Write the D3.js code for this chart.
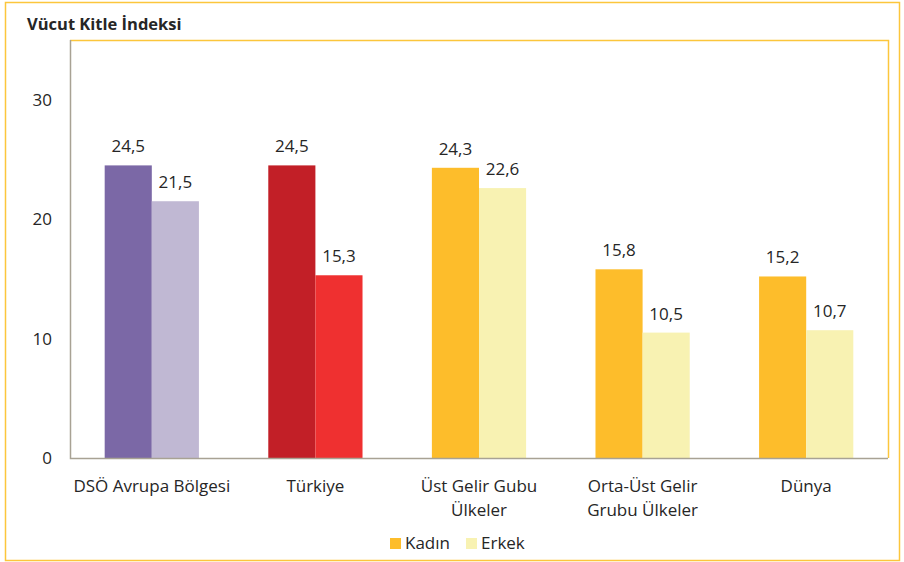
<!DOCTYPE html>
<html>
<head>
<meta charset="utf-8">
<script src="https://cdn.jsdelivr.net/npm/d3@7"></script>
<style>
  html, body { margin: 0; padding: 0; background: #fff; }
  #viz_container { width: 904px; height: 562px; }
  text { font-family: "Open Sans", sans-serif; fill: #262626; }
</style>
</head>
<body>
<div id="viz_container"></div>
<script>
// Chart data
const categories = ["DSÖ Avrupa Bölgesi", "Türkiye", "Üst Gelir Gubu Ülkeler", "Orta-Üst Gelir Grubu Ülkeler", "Dünya"];
const categoryLines = [["DSÖ Avrupa Bölgesi"], ["Türkiye"], ["Üst Gelir Gubu", "Ülkeler"], ["Orta-Üst Gelir", "Grubu Ülkeler"], ["Dünya"]];
const series = ["Kadın", "Erkek"];
const kadin = [24.5, 24.5, 24.3, 15.8, 15.2];
const erkek = [21.5, 15.3, 22.6, 10.5, 10.7];
const yTicks = [0, 10, 20, 30];

// per category colours (Kadın, Erkek)
const colors = [
  ["#7b68a6", "#c0b8d3"],
  ["#c21f27", "#ef3030"],
  ["#fdbd2b", "#f8f2b2"],
  ["#fdbd2b", "#f8f2b2"],
  ["#fdbd2b", "#f8f2b2"]
];
const legendColors = ["#fdbd2b", "#f8f2b2"];

const width = 904;
const height = 562;
const margin = { left: 70, right: 16, top: 40, bottom: 104 };

const svg = d3
  .select("#viz_container")
  .append("svg")
  .attr("width", width)
  .attr("height", height)
  .attr("viewBox", `0 0 ${width} ${height}`);

// outer frame
svg.append("rect")
  .attr("x", 5.5).attr("y", 2.5)
  .attr("width", 894).attr("height", 558)
  .attr("fill", "none")
  .attr("stroke", "#fcc63c")
  .attr("stroke-width", 1.5);

svg.append("text")
  .attr("x", 27).attr("y", 30)
  .style("font-size", "16.5px")
  .style("font-weight", "bold")
  .text("Vücut Kitle İndeksi");

const x0 = d3.scaleBand()
  .domain(categories)
  .range([margin.left, width - margin.right])
  .paddingInner(0.424)
  .paddingOuter(0.212);

const x1 = d3.scaleBand()
  .domain(series)
  .range([0, x0.bandwidth()]);

const y = d3.scaleLinear()
  .domain([0, 35])
  .range([height - margin.bottom, margin.top]);

// plot area frame: gold top/right, grey axes left/bottom
const px0 = margin.left, px1 = width - margin.right;
const py0 = margin.top, py1 = height - margin.bottom;
svg.append("path")
  .attr("d", `M${px0},${py0 + 0.5}H${px1 + 0.5}V${py1}`)
  .attr("fill", "none")
  .attr("stroke", "#fcc63c")
  .attr("stroke-width", 1.5);

// y axis labels
const yAxis = svg.append("g")
  .attr("transform", `translate(${px0},0)`)
  .call(d3.axisLeft(y).tickValues(yTicks).tickSize(0).tickPadding(18));
yAxis.select(".domain").remove();
yAxis.selectAll("text")
  .style("font-size", "17px")
  .style("font-family", "'Open Sans', sans-serif")
  .attr("fill", "#262626");

// bars
const data = categories.map((c, i) => ({ cat: c, i: i, values: [kadin[i], erkek[i]] }));

const groups = svg.append("g")
  .selectAll("g")
  .data(data)
  .enter()
  .append("g")
  .attr("transform", (d) => `translate(${x0(d.cat)},0)`);

groups.selectAll("rect")
  .data((d) => d.values.map((v, j) => ({ s: series[j], v: v, c: colors[d.i][j] })))
  .enter()
  .append("rect")
  .attr("x", (d) => x1(d.s))
  .attr("y", (d) => y(d.v))
  .attr("width", x1.bandwidth())
  .attr("height", (d) => y(0) - y(d.v))
  .attr("fill", (d) => d.c);

groups.selectAll("text.val")
  .data((d) => d.values.map((v, j) => ({ s: series[j], v: v })))
  .enter()
  .append("text")
  .attr("class", "val")
  .attr("x", (d) => x1(d.s) + x1.bandwidth() / 2)
  .attr("y", (d) => y(d.v) - 13)
  .attr("text-anchor", "middle")
  .style("font-size", "17px")
  .text((d) => d3.format(".1f")(d.v).replace(".", ","));

// axis lines
svg.append("path")
  .attr("d", `M${px0 + 0.5},${py0}V${py1 + 0.5}H${px1}`)
  .attr("fill", "none")
  .attr("stroke", "#a8a294")
  .attr("stroke-width", 1.5);

// category labels
svg.append("g")
  .selectAll("text")
  .data(data)
  .enter()
  .append("text")
  .attr("x", (d) => x0(d.cat) + x0.bandwidth() / 2)
  .attr("y", py1 + 34)
  .attr("text-anchor", "middle")
  .style("font-size", "17px")
  .selectAll("tspan")
  .data((d) => categoryLines[d.i])
  .enter()
  .append("tspan")
  .attr("x", function () { return d3.select(this.parentNode).attr("x"); })
  .attr("dy", (d, k) => (k === 0 ? 0 : 24))
  .text((d) => d);

// legend
const legend = svg.append("g").attr("transform", "translate(390,549)");
const legendX = [0, 76];
series.forEach((s, j) => {
  legend.append("rect")
    .attr("x", legendX[j]).attr("y", -11)
    .attr("width", 11).attr("height", 11)
    .attr("fill", legendColors[j]);
  legend.append("text")
    .attr("x", legendX[j] + 15).attr("y", 0)
    .style("font-size", "17px")
    .text(s);
});
</script>
</body>
</html>
